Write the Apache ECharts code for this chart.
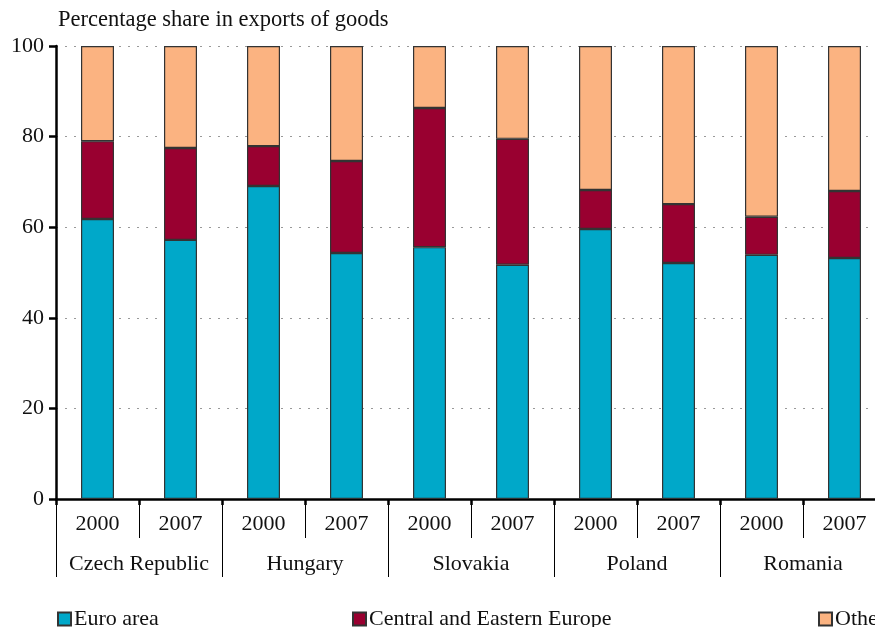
<!DOCTYPE html>
<html>
<head>
<meta charset="utf-8">
<script src="https://cdn.jsdelivr.net/npm/echarts@6/dist/echarts.min.js"></script>
<style>
  html, body { margin: 0; padding: 0; background: #fff; }
  #chart { width: 875px; height: 627px; }
</style>
</head>
<body>
<div id="chart"></div>
<script>
const countries = ['Czech Republic', 'Hungary', 'Slovakia', 'Poland', 'Romania']
const years = ['2000', '2007', '2000', '2007', '2000', '2007', '2000', '2007', '2000', '2007']
const euroArea = [61.8, 57.2, 69.1, 54.3, 55.6, 51.7, 59.6, 52.1, 53.9, 53.2]
const ceeEurope = [17.2, 20.3, 8.8, 20.3, 30.7, 27.8, 8.6, 13.0, 8.4, 14.8]
const other = [21.0, 22.5, 22.1, 25.4, 13.7, 20.5, 31.8, 34.9, 37.7, 32.0]
const yTicks = [0, 20, 40, 60, 80, 100]

const font = 'Liberation Serif'
const el = document.getElementById('chart')
const chart = echarts.init(el, null, { renderer: 'canvas' })

function barSeries(name, data, color) {
  return {
    name,
    type: 'bar',
    stack: 'total',
    barWidth: 33,
    itemStyle: { color, borderColor: '#333', borderWidth: 1.2 },
    data
  }
}

function legendAt(name, left) {
  return {
    data: [name],
    left,
    top: 608,
    icon: 'rect',
    itemWidth: 13,
    itemHeight: 13,
    itemGap: 0,
    padding: 0,
    textStyle: { fontFamily: font, fontSize: 22, color: '#111', padding: [0, 0, 0, -2] }
  }
}

function catAxis(data, tickLen, tickWidth, labelMargin, showLabel) {
  return {
    type: 'category',
    data,
    position: 'bottom',
    axisLine: { show: false },
    axisTick: { show: true, interval: 0, alignWithLabel: false, length: tickLen, lineStyle: { color: '#000', width: tickWidth } },
    axisLabel: { show: showLabel, interval: 0, margin: labelMargin, fontFamily: font, fontSize: 22, color: '#111' }
  }
}

const yearAxis = catAxis(years, 39, 1, 14, true)
yearAxis.axisLine = { show: true, lineStyle: { color: '#000', width: 2.5 } }

chart.setOption({
  animation: false,
  backgroundColor: '#fff',
  title: {
    text: 'Percentage share in exports of goods',
    left: 58,
    top: 9,
    padding: 0,
    textStyle: { fontFamily: font, fontSize: 22.5, fontWeight: 'normal', color: '#111' }
  },
  legend: [
    legendAt('Euro area', 57),
    legendAt('Central and Eastern Europe', 352),
    legendAt('Other', 818)
  ],
  grid: { left: 56, top: 46, width: 830, height: 453, outerBoundsMode: 'none', containLabel: false },
  xAxis: [
    yearAxis,
    catAxis(countries, 78, 1, 54, true),
    catAxis(years, 6, 2.5, 8, false)
  ],
  yAxis: {
    type: 'value',
    min: yTicks[0],
    max: yTicks[yTicks.length - 1],
    interval: 20,
    axisLine: { show: true, lineStyle: { color: '#000', width: 2.5 } },
    axisTick: { show: true, length: 7, lineStyle: { color: '#000', width: 2.5 } },
    axisLabel: { margin: 12, fontFamily: font, fontSize: 22, color: '#111' },
    splitLine: { lineStyle: { color: '#999', type: [2, 7], width: 1 } }
  },
  series: [
    barSeries('Euro area', euroArea, '#00a8c9'),
    barSeries('Central and Eastern Europe', ceeEurope, '#990030'),
    barSeries('Other', other, '#fbb381')
  ]
})
</script>
</body>
</html>
